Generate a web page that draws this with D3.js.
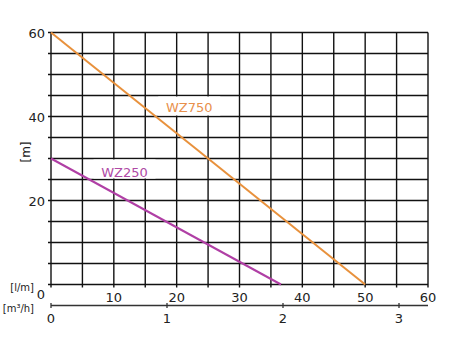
<!DOCTYPE html>
<html>
<head>
<meta charset="utf-8">
<script src="https://cdn.jsdelivr.net/npm/d3@7"></script>
<style>
  body { margin: 0; background: #fff; }
  text { font-family: "DejaVu Sans", sans-serif; }
</style>
</head>
<body>
<div id="plot"></div>
<script>
// curves: flow [l/m] -> head [m]
const flowWZ750 = [0, 50];
const headWZ750 = [60, 0];
const flowWZ250 = [0, 36.6];
const headWZ250 = [30, 0];
const seriesNames = ['WZ750', 'WZ250'];

const flowTicks = [0, 10, 20, 30, 40, 50, 60];
const headTicks = [20, 40, 60];
const cubicTicks = [0, 1, 2, 3];

const width = 462;
const height = 346;

const xScale = d3.scaleLinear()  // l/m
  .domain([0, 60])
  .range([51, 428]);

const yScale = d3.scaleLinear()  // m
  .domain([0, 60])
  .range([284.5, 32.5]);

// second axis m3/h (drawn slightly off the l/m scale, as in the original)
const mScale = d3.scaleLinear()
  .domain([0, 3])
  .range([51, 399]);

const svg = d3.select('#plot')
  .append('svg')
  .attr('width', width)
  .attr('height', height);

// grid
const grid = svg.append('g');
grid.selectAll('line.v')
  .data(d3.range(0, 61, 5))
  .enter()
  .append('line')
  .attr('x1', d => xScale(d))
  .attr('x2', d => xScale(d))
  .attr('y1', yScale(60))
  .attr('y2', yScale(0) + 3)
  .attr('stroke', '#111')
  .attr('stroke-width', 1.4);

grid.selectAll('line.h')
  .data(d3.range(0, 61, 5))
  .enter()
  .append('line')
  .attr('x1', xScale(0) - 3)
  .attr('x2', xScale(60))
  .attr('y1', d => yScale(d))
  .attr('y2', d => yScale(d))
  .attr('stroke', '#111')
  .attr('stroke-width', 1.4);

// white boxes behind the series labels (fill one grid row)
function labelBox(fx, rowTop, w) {
  svg.append('rect')
    .attr('x', xScale(fx) - w / 2)
    .attr('y', yScale(rowTop) + 1)
    .attr('width', w)
    .attr('height', yScale(rowTop - 5) - yScale(rowTop) - 2)
    .attr('fill', '#fff');
}
labelBox(22, 45, 62);
labelBox(11.7, 30, 62);

// curves
const line = d3.line()
  .x(d => xScale(d[0]))
  .y(d => yScale(d[1]));

svg.append('path')
  .datum(d3.zip(flowWZ750, headWZ750))
  .attr('d', line)
  .attr('fill', 'none')
  .attr('stroke', '#e8913c')
  .attr('stroke-width', 2);

svg.append('path')
  .datum(d3.zip(flowWZ250, headWZ250))
  .attr('d', line)
  .attr('fill', 'none')
  .attr('stroke', '#b03fa5')
  .attr('stroke-width', 2);

// series labels
svg.append('text')
  .attr('x', xScale(22))
  .attr('y', yScale(41.1))
  .attr('text-anchor', 'middle')
  .attr('font-size', 13)
  .attr('fill', '#e8904c')
  .text(seriesNames[0]);

svg.append('text')
  .attr('x', xScale(11.7))
  .attr('y', yScale(25.6))
  .attr('text-anchor', 'middle')
  .attr('font-size', 13)
  .attr('fill', '#b04aa5')
  .text(seriesNames[1]);

// y tick labels
svg.selectAll('text.ytick')
  .data(headTicks)
  .enter()
  .append('text')
  .attr('x', 45)
  .attr('y', d => yScale(d) + 5)
  .attr('text-anchor', 'end')
  .attr('font-size', 13)
  .attr('fill', '#222')
  .text(d => d);

svg.append('text')
  .attr('transform', 'translate(30,152) rotate(-90)')
  .attr('text-anchor', 'middle')
  .attr('font-size', 12)
  .attr('fill', '#222')
  .text('[m]');

// l/m tick labels
svg.selectAll('text.xtick')
  .data(flowTicks)
  .enter()
  .append('text')
  .attr('x', d => d === 0 ? xScale(d) - 10 : xScale(d))
  .attr('y', d => d === 0 ? 299 : 302)
  .attr('text-anchor', 'middle')
  .attr('font-size', 13)
  .attr('fill', '#222')
  .text(d => d);

svg.append('text')
  .attr('x', 34)
  .attr('y', 291)
  .attr('text-anchor', 'end')
  .attr('font-size', 10)
  .attr('fill', '#222')
  .text('[l/m]');

// m3/h axis
svg.append('line')
  .attr('x1', xScale(0))
  .attr('x2', xScale(60))
  .attr('y1', 305.5)
  .attr('y2', 305.5)
  .attr('stroke', '#333')
  .attr('stroke-width', 1.3);

svg.selectAll('line.mtick')
  .data(cubicTicks)
  .enter()
  .append('line')
  .attr('x1', d => mScale(d))
  .attr('x2', d => mScale(d))
  .attr('y1', 303)
  .attr('y2', 308)
  .attr('stroke', '#333')
  .attr('stroke-width', 1.3);

svg.selectAll('text.mtick')
  .data(cubicTicks)
  .enter()
  .append('text')
  .attr('x', d => mScale(d))
  .attr('y', 323)
  .attr('text-anchor', 'middle')
  .attr('font-size', 13)
  .attr('fill', '#222')
  .text(d => d);

svg.append('text')
  .attr('x', 34)
  .attr('y', 312)
  .attr('text-anchor', 'end')
  .attr('font-size', 10)
  .attr('fill', '#222')
  .text('[m³/h]');
</script>
</body>
</html>
